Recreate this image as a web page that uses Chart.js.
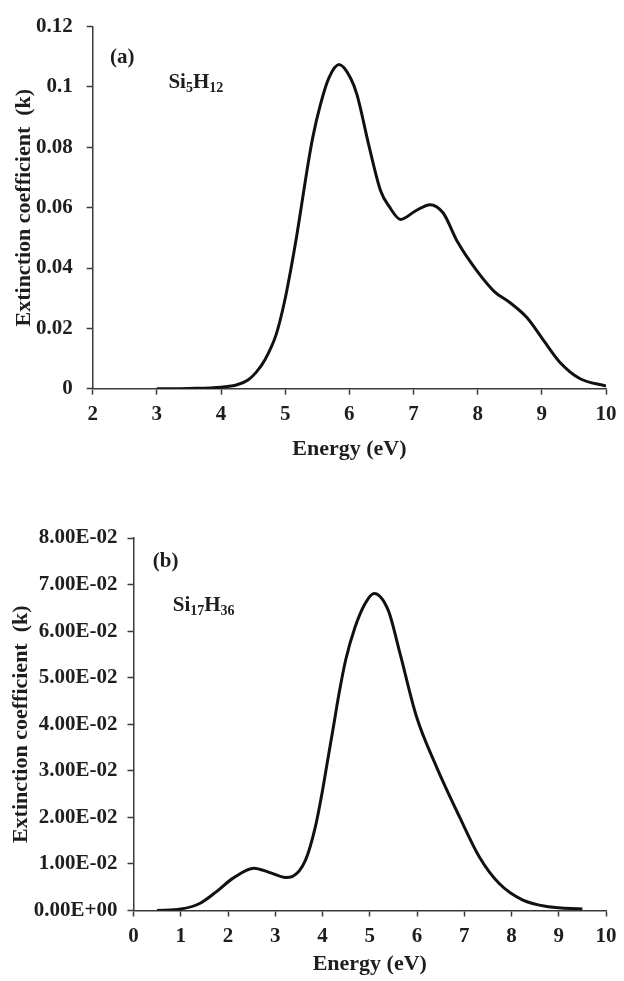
<!DOCTYPE html>
<html>
<head>
<meta charset="utf-8">
<script src="https://cdn.jsdelivr.net/npm/chart.js@4.4.0/dist/chart.umd.min.js"></script>
<style>
  html, body { margin: 0; padding: 0; background: #ffffff; }
  #wa { position: absolute; left: 0; top: 0; width: 624px; height: 470px; }
  #wb { position: absolute; left: 0; top: 490px; width: 624px; height: 491px; }
</style>
</head>
<body>
<div id="wa"><canvas id="ca" width="624" height="470"></canvas></div>
<div id="wb"><canvas id="cb" width="624" height="491"></canvas></div>
<script>
// ---- Panel (a): Si5H12 ----
const energyA = [3.0, 3.5, 4.0, 4.25, 4.42, 4.55, 4.68, 4.86, 4.99, 5.09, 5.18, 5.26, 5.34, 5.43, 5.55, 5.68, 5.84, 6.02, 6.12, 6.3, 6.49, 6.62, 6.8, 7.03, 7.26, 7.46, 7.69, 8.0, 8.26, 8.51, 8.77, 9.03, 9.28, 9.59, 10.0];
const kA      = [0, 0.0001, 0.0005, 0.0013, 0.0029, 0.0055, 0.0094, 0.018, 0.0289, 0.0398, 0.0507, 0.0615, 0.0724, 0.0833, 0.0942, 0.1029, 0.1074, 0.1029, 0.0974, 0.081, 0.0654, 0.0604, 0.0561, 0.0589, 0.061, 0.0583, 0.0485, 0.0387, 0.0322, 0.0284, 0.0235, 0.0159, 0.0088, 0.0034, 0.0009];
const yTickLabelsA = ['0', '0.02', '0.04', '0.06', '0.08', '0.1', '0.12'];
const xTickLabelsA = ['2', '3', '4', '5', '6', '7', '8', '9', '10'];

// ---- Panel (b): Si17H36 ----
const energyB = [0.5, 1.0, 1.4, 1.75, 2.1, 2.55, 2.87, 3.22, 3.36, 3.64, 3.85, 3.99, 4.11, 4.23, 4.35, 4.49, 4.69, 4.9, 5.09, 5.39, 5.64, 5.99, 6.41, 6.9, 7.32, 7.74, 8.23, 8.79, 9.5];
const kB      = [0, 0.0003, 0.0015, 0.004, 0.0069, 0.0091, 0.0082, 0.0071, 0.0073, 0.0108, 0.018, 0.0252, 0.0323, 0.0394, 0.0466, 0.0538, 0.0609, 0.0659, 0.0681, 0.0645, 0.0552, 0.0416, 0.0309, 0.0201, 0.0115, 0.0058, 0.0023, 0.0008, 0.0003];
const yTickLabelsB = ['0.00E+00', '1.00E-02', '2.00E-02', '3.00E-02', '4.00E-02', '5.00E-02', '6.00E-02', '7.00E-02', '8.00E-02'];
const xTickLabelsB = ['0', '1', '2', '3', '4', '5', '6', '7', '8', '9', '10'];

const xTitle = 'Energy (eV)';
const yTitle = 'Extinction coefficient  (k)';

const FONT = "'Liberation Serif', 'Times New Roman', serif";
const TXT = '#1e1e1e';
const AXC = '#3a3a3a';

function annotPlugin(items) {
  return {
    id: 'annot',
    afterDraw(chart) {
      const ctx = chart.ctx;
      const xs = chart.scales.x, ys = chart.scales.y;
      ctx.save();
      ctx.fillStyle = TXT;
      ctx.textBaseline = 'alphabetic';
      ctx.textAlign = 'left';
      items.forEach(it => {
        let x = xs.getPixelForValue(it.x);
        const y = ys.getPixelForValue(it.y);
        it.parts.forEach(p => {
          const sub = p.sub;
          ctx.font = 'bold ' + (sub ? 14 : 21) + 'px ' + FONT;
          ctx.fillText(p.t, x, y + (sub ? 4 : 0));
          x += ctx.measureText(p.t).width;
        });
      });
      ctx.restore();
    }
  };
}

function makeChart(id, energy, k, opt) {
  const pts = energy.map((e, i) => ({x: e, y: k[i]}));
  return new Chart(document.getElementById(id), {
    type: 'scatter',
    data: { datasets: [{
      data: pts, showLine: true, borderColor: '#111111', borderWidth: 3,
      pointRadius: 0, cubicInterpolationMode: 'monotone', fill: false
    }]},
    options: {
      responsive: false, animation: false,
      plugins: { legend: { display: false }, tooltip: { enabled: false } },
      layout: { padding: opt.padding },
      scales: {
        x: {
          type: 'linear', min: opt.xmin, max: opt.xmax,
          afterFit: s => { s.height = opt.xh; },
          ticks: { stepSize: 1, padding: 7.5, color: TXT, font: { family: FONT, size: 21, weight: 'bold' },
                   maxRotation: 0, autoSkip: false,
                   callback: (v, i) => opt.xLabels[i] },
          grid: { drawOnChartArea: false, drawTicks: true, tickLength: 6, tickColor: AXC, tickWidth: 1.5 },
          border: { display: true, color: AXC, width: 1.5 },
          title: { display: true, text: xTitle, color: TXT, font: { family: FONT, size: 22, weight: 'bold' },
                   padding: { top: 0, bottom: opt.xtPad } }
        },
        y: {
          type: 'linear', min: opt.ymin, max: opt.ymax,
          afterFit: s => { s.width = opt.yw; },
          ticks: { stepSize: opt.ystep, padding: opt.ypad, color: TXT, font: { family: FONT, size: 21, weight: 'bold' },
                   autoSkip: false,
                   callback: (v, i) => opt.yLabels[i] },
          grid: { drawOnChartArea: false, drawTicks: true, tickLength: 6, tickColor: AXC, tickWidth: 1.5 },
          border: { display: true, color: AXC, width: 1.5 },
          title: { display: true, text: yTitle, color: TXT, font: { family: FONT, size: 22, weight: 'bold' },
                   padding: { top: opt.ytPad, bottom: 0 } }
        }
      }
    },
    plugins: [annotPlugin(opt.annots)]
  });
}

makeChart('ca', energyA, kA, {
  padding: { top: 20, right: 11.5, left: 0, bottom: 0 },
  xmin: 2, xmax: 10, ymin: 0, ymax: 0.12, ystep: 0.02,
  xh: 81.3, yw: 92.7, ypad: 14, xtPad: 7, ytPad: 11,
  xLabels: xTickLabelsA, yLabels: yTickLabelsA,
  annots: [
    { x: 2.27, y: 0.1079, parts: [{t: '(a)'}] },
    { x: 3.18, y: 0.0997, parts: [{t: 'Si'}, {t: '5', sub: true}, {t: 'H'}, {t: '12', sub: true}] }
  ]
});

makeChart('cb', energyB, kB, {
  padding: { top: 48, right: 14.5, left: 0, bottom: 0 },
  xmin: 0, xmax: 10, ymin: 0, ymax: 0.08, ystep: 0.01,
  xh: 70.5, yw: 133.5, ypad: 10, xtPad: 3, ytPad: 8,
  xLabels: xTickLabelsB, yLabels: yTickLabelsB,
  annots: [
    { x: 0.41, y: 0.0737, parts: [{t: '(b)'}] },
    { x: 0.83, y: 0.0643, parts: [{t: 'Si'}, {t: '17', sub: true}, {t: 'H'}, {t: '36', sub: true}] }
  ]
});
</script>
</body>
</html>
